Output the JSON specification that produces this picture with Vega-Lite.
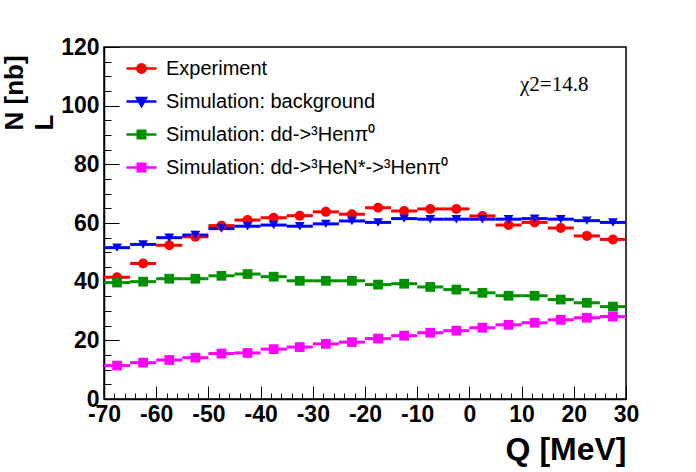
{
  "$schema": "https://vega.github.io/schema/vega-lite/v6.json",
  "width": 522,
  "height": 352,
  "autosize": "none",
  "padding": {"left": 104, "top": 47, "right": 70, "bottom": 73},
  "background": "white",
  "config": {
    "view": {"stroke": "black", "strokeWidth": 1.5},
    "font": "Liberation Sans"
  },
  "resolve": {"axis": {"x": "independent", "y": "independent"}},
  "datasets": {
    "pts": [
      {"s": "Experiment", "q": -67.5, "lo": -70, "hi": -65, "n": 41.5},
      {"s": "Experiment", "q": -62.5, "lo": -65, "hi": -60, "n": 46.2},
      {"s": "Experiment", "q": -57.5, "lo": -60, "hi": -55, "n": 52.4},
      {"s": "Experiment", "q": -52.5, "lo": -55, "hi": -50, "n": 55.3},
      {"s": "Experiment", "q": -47.5, "lo": -50, "hi": -45, "n": 59.1},
      {"s": "Experiment", "q": -42.5, "lo": -45, "hi": -40, "n": 61.0},
      {"s": "Experiment", "q": -37.5, "lo": -40, "hi": -35, "n": 61.8},
      {"s": "Experiment", "q": -32.5, "lo": -35, "hi": -30, "n": 62.5},
      {"s": "Experiment", "q": -27.5, "lo": -30, "hi": -25, "n": 63.8},
      {"s": "Experiment", "q": -22.5, "lo": -25, "hi": -20, "n": 63.0},
      {"s": "Experiment", "q": -17.5, "lo": -20, "hi": -15, "n": 65.2},
      {"s": "Experiment", "q": -12.5, "lo": -15, "hi": -10, "n": 64.1},
      {"s": "Experiment", "q": -7.5, "lo": -10, "hi": -5, "n": 64.8},
      {"s": "Experiment", "q": -2.5, "lo": -5, "hi": 0, "n": 64.8},
      {"s": "Experiment", "q": 2.5, "lo": 0, "hi": 5, "n": 62.4},
      {"s": "Experiment", "q": 7.5, "lo": 5, "hi": 10, "n": 59.3},
      {"s": "Experiment", "q": 12.5, "lo": 10, "hi": 15, "n": 60.2},
      {"s": "Experiment", "q": 17.5, "lo": 15, "hi": 20, "n": 58.3},
      {"s": "Experiment", "q": 22.5, "lo": 20, "hi": 25, "n": 55.6},
      {"s": "Experiment", "q": 27.5, "lo": 25, "hi": 30, "n": 54.4},
      {"s": "Simulation: background", "q": -67.5, "lo": -70, "hi": -65, "n": 51.6},
      {"s": "Simulation: background", "q": -62.5, "lo": -65, "hi": -60, "n": 52.7},
      {"s": "Simulation: background", "q": -57.5, "lo": -60, "hi": -55, "n": 55.0},
      {"s": "Simulation: background", "q": -52.5, "lo": -55, "hi": -50, "n": 55.9},
      {"s": "Simulation: background", "q": -47.5, "lo": -50, "hi": -45, "n": 58.1},
      {"s": "Simulation: background", "q": -42.5, "lo": -45, "hi": -40, "n": 58.9},
      {"s": "Simulation: background", "q": -37.5, "lo": -40, "hi": -35, "n": 59.3},
      {"s": "Simulation: background", "q": -32.5, "lo": -35, "hi": -30, "n": 58.9},
      {"s": "Simulation: background", "q": -27.5, "lo": -30, "hi": -25, "n": 59.7},
      {"s": "Simulation: background", "q": -22.5, "lo": -25, "hi": -20, "n": 60.7},
      {"s": "Simulation: background", "q": -17.5, "lo": -20, "hi": -15, "n": 60.2},
      {"s": "Simulation: background", "q": -12.5, "lo": -15, "hi": -10, "n": 61.5},
      {"s": "Simulation: background", "q": -7.5, "lo": -10, "hi": -5, "n": 61.3},
      {"s": "Simulation: background", "q": -2.5, "lo": -5, "hi": 0, "n": 61.3},
      {"s": "Simulation: background", "q": 2.5, "lo": 0, "hi": 5, "n": 61.3},
      {"s": "Simulation: background", "q": 7.5, "lo": 5, "hi": 10, "n": 61.3},
      {"s": "Simulation: background", "q": 12.5, "lo": 10, "hi": 15, "n": 61.5},
      {"s": "Simulation: background", "q": 17.5, "lo": 15, "hi": 20, "n": 61.3},
      {"s": "Simulation: background", "q": 22.5, "lo": 20, "hi": 25, "n": 60.8},
      {"s": "Simulation: background", "q": 27.5, "lo": 25, "hi": 30, "n": 60.2},
      {"s": "Simulation: dd->³Henπ⁰", "q": -67.5, "lo": -70, "hi": -65, "n": 39.7},
      {"s": "Simulation: dd->³Henπ⁰", "q": -62.5, "lo": -65, "hi": -60, "n": 40.0},
      {"s": "Simulation: dd->³Henπ⁰", "q": -57.5, "lo": -60, "hi": -55, "n": 41.0},
      {"s": "Simulation: dd->³Henπ⁰", "q": -52.5, "lo": -55, "hi": -50, "n": 41.0},
      {"s": "Simulation: dd->³Henπ⁰", "q": -47.5, "lo": -50, "hi": -45, "n": 42.0},
      {"s": "Simulation: dd->³Henπ⁰", "q": -42.5, "lo": -45, "hi": -40, "n": 42.6},
      {"s": "Simulation: dd->³Henπ⁰", "q": -37.5, "lo": -40, "hi": -35, "n": 41.7},
      {"s": "Simulation: dd->³Henπ⁰", "q": -32.5, "lo": -35, "hi": -30, "n": 40.3},
      {"s": "Simulation: dd->³Henπ⁰", "q": -27.5, "lo": -30, "hi": -25, "n": 40.3},
      {"s": "Simulation: dd->³Henπ⁰", "q": -22.5, "lo": -25, "hi": -20, "n": 40.3},
      {"s": "Simulation: dd->³Henπ⁰", "q": -17.5, "lo": -20, "hi": -15, "n": 39.0},
      {"s": "Simulation: dd->³Henπ⁰", "q": -12.5, "lo": -15, "hi": -10, "n": 39.3},
      {"s": "Simulation: dd->³Henπ⁰", "q": -7.5, "lo": -10, "hi": -5, "n": 38.2},
      {"s": "Simulation: dd->³Henπ⁰", "q": -2.5, "lo": -5, "hi": 0, "n": 37.3},
      {"s": "Simulation: dd->³Henπ⁰", "q": 2.5, "lo": 0, "hi": 5, "n": 36.2},
      {"s": "Simulation: dd->³Henπ⁰", "q": 7.5, "lo": 5, "hi": 10, "n": 35.2},
      {"s": "Simulation: dd->³Henπ⁰", "q": 12.5, "lo": 10, "hi": 15, "n": 35.2},
      {"s": "Simulation: dd->³Henπ⁰", "q": 17.5, "lo": 15, "hi": 20, "n": 33.9},
      {"s": "Simulation: dd->³Henπ⁰", "q": 22.5, "lo": 20, "hi": 25, "n": 32.8},
      {"s": "Simulation: dd->³Henπ⁰", "q": 27.5, "lo": 25, "hi": 30, "n": 31.5},
      {"s": "Simulation: dd->³HeN*->³Henπ⁰", "q": -67.5, "lo": -70, "hi": -65, "n": 11.4},
      {"s": "Simulation: dd->³HeN*->³Henπ⁰", "q": -62.5, "lo": -65, "hi": -60, "n": 12.4},
      {"s": "Simulation: dd->³HeN*->³Henπ⁰", "q": -57.5, "lo": -60, "hi": -55, "n": 13.3},
      {"s": "Simulation: dd->³HeN*->³Henπ⁰", "q": -52.5, "lo": -55, "hi": -50, "n": 14.1},
      {"s": "Simulation: dd->³HeN*->³Henπ⁰", "q": -47.5, "lo": -50, "hi": -45, "n": 15.5},
      {"s": "Simulation: dd->³HeN*->³Henπ⁰", "q": -42.5, "lo": -45, "hi": -40, "n": 15.7},
      {"s": "Simulation: dd->³HeN*->³Henπ⁰", "q": -37.5, "lo": -40, "hi": -35, "n": 17.0},
      {"s": "Simulation: dd->³HeN*->³Henπ⁰", "q": -32.5, "lo": -35, "hi": -30, "n": 17.7},
      {"s": "Simulation: dd->³HeN*->³Henπ⁰", "q": -27.5, "lo": -30, "hi": -25, "n": 18.8},
      {"s": "Simulation: dd->³HeN*->³Henπ⁰", "q": -22.5, "lo": -25, "hi": -20, "n": 19.4},
      {"s": "Simulation: dd->³HeN*->³Henπ⁰", "q": -17.5, "lo": -20, "hi": -15, "n": 20.6},
      {"s": "Simulation: dd->³HeN*->³Henπ⁰", "q": -12.5, "lo": -15, "hi": -10, "n": 21.6},
      {"s": "Simulation: dd->³HeN*->³Henπ⁰", "q": -7.5, "lo": -10, "hi": -5, "n": 22.6},
      {"s": "Simulation: dd->³HeN*->³Henπ⁰", "q": -2.5, "lo": -5, "hi": 0, "n": 23.3},
      {"s": "Simulation: dd->³HeN*->³Henπ⁰", "q": 2.5, "lo": 0, "hi": 5, "n": 24.3},
      {"s": "Simulation: dd->³HeN*->³Henπ⁰", "q": 7.5, "lo": 5, "hi": 10, "n": 25.3},
      {"s": "Simulation: dd->³HeN*->³Henπ⁰", "q": 12.5, "lo": 10, "hi": 15, "n": 26.0},
      {"s": "Simulation: dd->³HeN*->³Henπ⁰", "q": 17.5, "lo": 15, "hi": 20, "n": 27.0},
      {"s": "Simulation: dd->³HeN*->³Henπ⁰", "q": 22.5, "lo": 20, "hi": 25, "n": 27.7},
      {"s": "Simulation: dd->³HeN*->³Henπ⁰", "q": 27.5, "lo": 25, "hi": 30, "n": 28.1}
    ],
    "note": [{"q": 9.7, "n": 105.0, "label": "χ2=14.8"}]
  },
  "layer": [
    {
      "data": {"name": "pts"},
      "mark": {"type": "rule", "strokeWidth": 3},
      "encoding": {
        "x": {
          "field": "lo", "type": "quantitative",
          "scale": {"domain": [-70, 30], "nice": false, "zero": false},
          "axis": {
            "orient": "bottom",
            "values": [-70,-60,-50,-40,-30,-20,-10,0,10,20,30],
            "labelExpr": "'' + datum.value",
            "ticks": true, "tickSize": -13, "tickColor": "black", "tickWidth": 1,
            "domainColor": "black", "domainWidth": 1.5,
            "labelFont": "Liberation Sans", "labelFontWeight": "bold", "labelFontSize": 23, "labelColor": "black",
            "labelPadding": 17, "labelFlush": false, "labelOverlap": false,
            "grid": false,
            "title": "Q [MeV]", "titleFont": "Liberation Sans", "titleFontWeight": "bold", "titleFontSize": 32, "titleColor": "black",
            "titleAnchor": "end", "titleAlign": "right", "titleBaseline": "alphabetic", "titleY": 60
          }
        },
        "x2": {"field": "hi"},
        "y": {
          "field": "n", "type": "quantitative",
          "scale": {"domain": [0, 120], "nice": false},
          "axis": {
            "orient": "left",
            "values": [0,20,40,60,80,100,120],
            "labelExpr": "'' + datum.value",
            "ticks": true, "tickSize": -15, "tickColor": "black", "tickWidth": 1,
            "domainColor": "black", "domainWidth": 1.5,
            "labelFont": "Liberation Sans", "labelFontWeight": "bold", "labelFontSize": 23, "labelColor": "black",
            "labelPadding": 20, "labelFlush": false, "labelOverlap": false,
            "grid": false,
            "title": ["N [nb]", "L"], "titleFont": "Liberation Sans", "titleFontWeight": "bold", "titleFontSize": 26, "titleColor": "black",
            "titleAngle": -90, "titleAlign": "left", "titleBaseline": "top", "titleX": -103, "titleY": 83, "titleLineHeight": 30
          }
        },
        "color": {
          "field": "s", "type": "nominal",
          "scale": {
            "domain": ["Experiment", "Simulation: background", "Simulation: dd->³Henπ⁰", "Simulation: dd->³HeN*->³Henπ⁰"],
            "range": ["#ff0000", "#0000ff", "#009000", "#ff00ff"]
          },
          "legend": {
            "orient": "none", "legendX": 21, "legendY": 5,
            "title": null,
            "labelFont": "Liberation Sans", "labelFontSize": 20, "labelColor": "black", "labelLimit": 400,
            "symbolSize": 900, "symbolStrokeWidth": 2.5, "labelOffset": 8, "rowPadding": 6,
            "symbolType": "M-1,0H1",
            "encode": {
              "symbols": {
                "update": {
                  "shape": {"signal": "datum.value === 'Experiment' ? 'M-1,0H1M0.28,0A0.28,0.28 0 1,1 -0.28,0A0.28,0.28 0 1,1 0.28,0Z' : datum.value === 'Simulation: background' ? 'M-1,0H1M-0.3,-0.24L0.3,-0.24L0,0.3Z' : 'M-1,0H1M-0.25,-0.25H0.25V0.25H-0.25Z'"},
                  "fill": {"signal": "scale('color', datum.value)"},
                  "stroke": {"signal": "scale('color', datum.value)"},
                  "opacity": {"value": 1},
                  "fillOpacity": {"value": 1},
                  "strokeOpacity": {"value": 1}
                }
              }
            }
          }
        }
      }
    },
    {
      "data": {"name": "pts"},
      "transform": [{"filter": "datum.s === 'Experiment'"}],
      "mark": {"type": "point", "shape": "circle", "filled": true, "opacity": 1, "size": 100},
      "encoding": {
        "x": {
          "field": "q", "type": "quantitative",
          "axis": {
            "orient": "bottom",
            "values": [-68,-66,-64,-62,-58,-56,-54,-52,-48,-46,-44,-42,-38,-36,-34,-32,-28,-26,-24,-22,-18,-16,-14,-12,-8,-6,-4,-2,2,4,6,8,12,14,16,18,22,24,26,28],
            "labels": false, "domain": false, "grid": false, "title": null,
            "ticks": true, "tickSize": -6, "tickColor": "black", "tickWidth": 1
          }
        },
        "y": {
          "field": "n", "type": "quantitative",
          "axis": {
            "orient": "left",
            "values": [5,10,15,25,30,35,45,50,55,65,70,75,85,90,95,105,110,115],
            "labels": false, "domain": false, "grid": false, "title": null,
            "ticks": true, "tickSize": -7, "tickColor": "black", "tickWidth": 1
          }
        },
        "color": {"field": "s", "type": "nominal"}
      }
    },
    {
      "data": {"name": "pts"},
      "transform": [{"filter": "datum.s === 'Simulation: background'"}],
      "mark": {"type": "point", "shape": "triangle-down", "filled": true, "opacity": 1, "size": 95},
      "encoding": {
        "x": {"field": "q", "type": "quantitative", "axis": null},
        "y": {"field": "n", "type": "quantitative", "axis": null},
        "color": {"field": "s", "type": "nominal"}
      }
    },
    {
      "data": {"name": "pts"},
      "transform": [{"filter": "datum.s !== 'Experiment' && datum.s !== 'Simulation: background'"}],
      "mark": {"type": "point", "shape": "square", "filled": true, "opacity": 1, "size": 95},
      "encoding": {
        "x": {"field": "q", "type": "quantitative", "axis": null},
        "y": {"field": "n", "type": "quantitative", "axis": null},
        "color": {"field": "s", "type": "nominal"}
      }
    },
    {
      "data": {"name": "note"},
      "mark": {"type": "text", "font": "Liberation Serif", "fontSize": 21, "align": "left", "baseline": "alphabetic", "color": "black"},
      "encoding": {
        "x": {"field": "q", "type": "quantitative", "axis": null},
        "y": {"field": "n", "type": "quantitative", "axis": null},
        "text": {"field": "label"}
      }
    }
  ]
}
